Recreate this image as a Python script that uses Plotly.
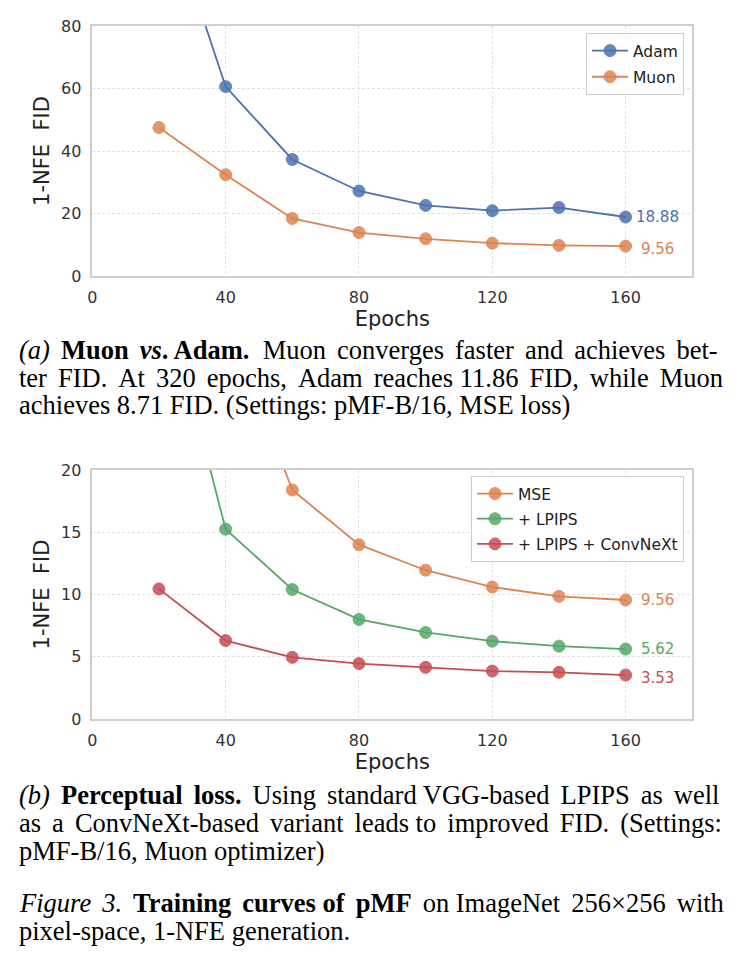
import plotly.graph_objects as go

# ---- data ----
epochs = [20, 40, 60, 80, 100, 120, 140, 160]
adam = [125.0, 60.6, 37.3, 27.2, 22.6, 20.9, 21.9, 18.88]
muon = [47.5, 32.4, 18.4, 13.9, 11.9, 10.5, 9.8, 9.56]

mse = [47.5, 32.4, 18.4, 14.0, 11.95, 10.6, 9.85, 9.56]
lpips = [36.0, 15.25, 10.4, 8.0, 6.95, 6.25, 5.85, 5.62]
convnext = [10.45, 6.3, 4.95, 4.45, 4.15, 3.85, 3.75, 3.53]

xticks = [0, 40, 80, 120, 160]
yticks_a = [0, 20, 40, 60, 80]
yticks_b = [0, 5, 10, 15, 20]

BLUE, ORANGE, GREEN, RED = "#4C72B0", "#DD8452", "#55A868", "#C44E52"

W, H = 735, 962
def py(pix):
    return 1 - pix / H

fig = go.Figure()

def add(x, y, name, color, xa, ya, legend):
    fig.add_trace(go.Scatter(
        x=x, y=y, name=name, mode="lines+markers", xaxis=xa, yaxis=ya,
        legend=legend, legendgroup=name, cliponaxis=True,
        line=dict(color=color, width=1.8),
        marker=dict(color=color, size=12, opacity=0.85,
                    line=dict(color=color, width=1)),
    ))

add(epochs, adam, "Adam", BLUE, "x", "y", "legend")
add(epochs, muon, "Muon", ORANGE, "x", "y", "legend")
add(epochs, mse, "MSE", ORANGE, "x2", "y2", "legend2")
add(epochs, lpips, "+ LPIPS", GREEN, "x2", "y2", "legend2")
add(epochs, convnext, "+ LPIPS + ConvNeXt", RED, "x2", "y2", "legend2")

xdom = [92.3 / W, 692.3 / W]
axis_common = dict(
    showline=True, linecolor="#cfcfcf", linewidth=1.5, mirror=True,
    showgrid=True, gridcolor="#e2e2e2", griddash="3px,2px", gridwidth=1,
    zeroline=False, ticks="outside", ticklen=6, tickcolor="rgba(0,0,0,0)",
    automargin=False,
    tickfont=dict(family="DejaVu Sans", size=16, color="#333333"),
)
title_font = dict(family="DejaVu Sans", size=21, color="#222222")

legend_common = dict(
    xanchor="right", yanchor="top",
    bgcolor="rgba(255,255,255,0.9)", bordercolor="#cccccc", borderwidth=1,
    font=dict(family="DejaVu Sans", size=15.5, color="#222222"),
    itemwidth=36,
)

fig.update_layout(
    width=W, height=H, margin=dict(l=0, r=0, t=0, b=0, autoexpand=False),
    plot_bgcolor="white", paper_bgcolor="white",
    xaxis=dict(domain=xdom, anchor="y", range=[0, 180], tickvals=xticks,
               title=dict(text="Epochs", font=title_font, standoff=2), **axis_common),
    yaxis=dict(domain=[py(276), py(26)], anchor="x", range=[0, 80], tickvals=yticks_a,
               title=dict(text="1-NFE  FID", font=title_font, standoff=6), **axis_common),
    xaxis2=dict(domain=xdom, anchor="y2", range=[0, 180], tickvals=xticks,
                title=dict(text="Epochs", font=title_font, standoff=2), **axis_common),
    yaxis2=dict(domain=[py(719), py(470)], anchor="x2", range=[0, 20], tickvals=yticks_b,
                title=dict(text="1-NFE  FID", font=title_font, standoff=6), **axis_common),
    legend=dict(x=684 / W, y=py(33), tracegroupgap=3, **legend_common),
    legend2=dict(x=684 / W, y=py(476), tracegroupgap=2, **legend_common),
    showlegend=True,
)

# end-value labels
def endlabel(xref, yref, yval, color, yshift=0):
    fig.add_annotation(x=epochs[-1], y=yval, xref=xref, yref=yref, text=f"{yval:.2f}",
                       showarrow=False, xanchor="center", yanchor="middle",
                       xshift=31.5, yshift=yshift,
                       font=dict(family="DejaVu Sans", size=15, color=color))

endlabel("x", "y", adam[-1], BLUE)
endlabel("x", "y", muon[-1], ORANGE, yshift=-3)
endlabel("x2", "y2", mse[-1], ORANGE)
endlabel("x2", "y2", lpips[-1], GREEN)
endlabel("x2", "y2", convnext[-1], RED, yshift=-3)

# captions ("|" marks a gap widened by a six-per-em space to mimic justification)
SP = " \u2006"
serif = dict(family="Liberation Serif", size=26.5, color="black")
captions = [
    (350, "<i>(a)</i>|<b>Muon|<i>vs</i>. Adam.</b>\u00a0 Muon|converges|faster|and|achieves|bet-"),
    (378, "ter|FID.|At|320|epochs,|Adam|reaches 11.86|FID,|while|Muon"),
    (405, "achieves 8.71 FID. (Settings: pMF-B/16, MSE loss)"),
    (795, "<i>(b)</i>|<b>Perceptual|loss.</b>|Using|standard VGG-based|LPIPS|as|well"),
    (823, "as|a|ConvNeXt-based|variant|leads to|improved|FID.|(Settings:"),
    (851, "pMF-B/16, Muon optimizer)"),
    (903, "<i>Figure|3.</i>|<b>Training|curves of|pMF</b>|on ImageNet|256\u00d7256|with"),
    (931, "pixel-space, 1-NFE generation."),
]
for yp, txt in captions:
    fig.add_annotation(x=17 / W, y=py(yp), xref="paper", yref="paper",
                       text=txt.replace("|", SP),
                       showarrow=False, xanchor="left", yanchor="middle", align="left",
                       font=serif)

fig.write_html("out.html")
